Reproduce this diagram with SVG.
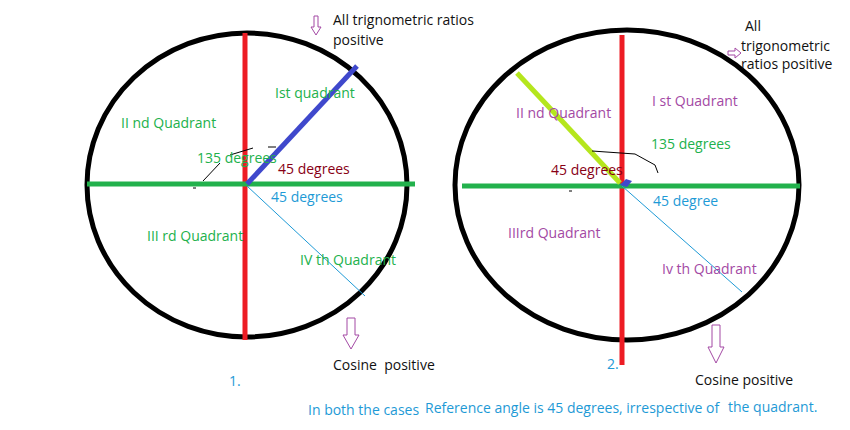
<svg xmlns="http://www.w3.org/2000/svg" width="850" height="430" viewBox="0 0 850 430">
<style>
text{font-family:"Open Sans","Liberation Sans",sans-serif;font-size:14px}
.g{fill:#22b14c}.p{fill:#a349a4}.dr{fill:#880015}.b{fill:#1e9ad6}.k{fill:#111}
.circ{fill:none;stroke:#000;stroke-width:5}
.red{stroke:#ed1c24;stroke-width:5}
.grn{stroke:#22b14c;stroke-width:5}
.thin{fill:none;stroke:#000;stroke-width:1}
.tb{stroke:#1e9ad6;stroke-width:1}
.arr{fill:#fff;stroke:#a349a4;stroke-width:1}
</style>
<rect width="850" height="430" fill="#fff"/>
<g id="diagram1">
<ellipse class="circ" cx="247" cy="185" rx="160" ry="152"/>
<line class="red" x1="245" y1="33" x2="245" y2="340"/>
<line class="grn" x1="87" y1="184" x2="415" y2="184"/>
<line stroke="#3f48cc" stroke-width="5" x1="247" y1="184" x2="357" y2="66"/>
<line class="tb" x1="247" y1="186" x2="365" y2="296"/>
<polyline class="thin" points="203,181 220,163"/>
<polyline class="thin" points="230,155 253,148"/>
<line class="thin" x1="268" y1="147" x2="276" y2="147"/>
<line class="thin" x1="193" y1="188" x2="196" y2="188"/>
<path class="arr" d="M314,16 h4 v11 h3 l-5,8 l-5,-8 h3 z"/>
<path class="arr" d="M347,318 h8 v17 h4 l-8,14 l-8,-14 h4 z"/>
<text class="k" x="333" y="25">All trignometric ratios</text>
<text class="k" x="333" y="45">positive</text>
<text class="g" x="275" y="98">Ist quadrant</text>
<text class="g" x="121" y="128">II nd Quadrant</text>
<text class="g" x="197" y="163">135 degrees</text>
<text class="dr" x="278" y="174">45 degrees</text>
<text class="b" x="271" y="202">45 degrees</text>
<text class="g" x="147" y="241">III rd Quadrant</text>
<text class="g" x="300" y="265">IV th Quadrant</text>
<text class="k" x="333" y="370" style="white-space:pre">Cosine  positive</text>
<text class="b" x="229" y="386">1.</text>
</g>
<g id="diagram2">
<ellipse class="circ" cx="627" cy="185" rx="172" ry="155"/>
<line class="red" x1="622" y1="35" x2="622" y2="365"/>
<line class="grn" x1="462" y1="186" x2="800" y2="186"/>
<line stroke="#b5e61d" stroke-width="5" x1="517" y1="73" x2="620" y2="183"/>
<line class="tb" x1="622" y1="186" x2="742" y2="292"/>
<path d="M620,185 L626,179 L632,181 L627,187 Z" fill="#3f48cc"/>
<polyline class="thin" points="592,151 635,154 655,165 658,173"/>
<line class="thin" x1="569" y1="191" x2="572" y2="191"/>
<path class="arr" d="M728,51 h7 v-3 l6,5 l-6,5 v-3 h-7 z"/>
<path class="arr" d="M712,325 h8 v22 h4 l-8,16 l-8,-16 h4 z"/>
<text class="k" x="745" y="31">All</text>
<text class="k" x="741" y="51">trigonometric</text>
<text class="k" x="741" y="69">ratios positive</text>
<text class="p" x="652" y="106">I st Quadrant</text>
<text class="p" x="516" y="118">II nd Quadrant</text>
<text class="g" x="651" y="149">135 degrees</text>
<text class="dr" x="551" y="175">45 degrees</text>
<text class="b" x="653" y="206">45 degree</text>
<text class="p" x="508" y="238">IIIrd Quadrant</text>
<text class="p" x="662" y="274">Iv th Quadrant</text>
<text class="k" x="695" y="385">Cosine positive</text>
<text class="b" x="607" y="369">2.</text>
</g>
<g id="caption">
<text class="b" x="308" y="415">In both the cases</text>
<text class="b" x="425" y="413">Reference angle is 45 degrees, irrespective of</text>
<text class="b" x="728" y="412">the quadrant.</text>
</g>
</svg>
